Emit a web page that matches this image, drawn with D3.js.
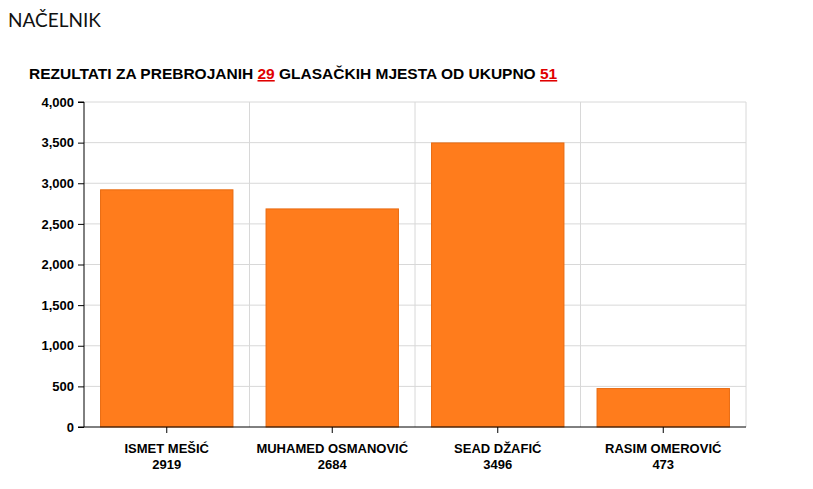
<!DOCTYPE html><html><head><meta charset="utf-8"><script src="https://cdn.jsdelivr.net/npm/d3@7"></script>
<style>body{margin:0;background:#fff}</style></head><body><svg id="c" width="813" height="489"></svg><script>
const candidates=["ISMET MEŠIĆ","MUHAMED OSMANOVIĆ","SEAD DŽAFIĆ","RASIM OMEROVIĆ"];
const votes=[2919,2684,3496,473];
const yTicks=[0,500,1000,1500,2000,2500,3000,3500,4000];
const counted="29", total="51";
const svg=d3.select("#c");
const L=84,R=746,T=102,B=427;
const x=d3.scaleBand().domain(candidates).range([L,R]).paddingInner(0.2).paddingOuter(0.1);
const xb=d3.scaleBand().domain(candidates).range([L,R]);
const y=d3.scaleLinear().domain([0,4000]).range([B,T]);
svg.append("text").attr("x",8).attr("y",27).attr("font-family","Lato").attr("font-size",19).attr("fill","#111").text("NAČELNIK");
const st=svg.append("text").attr("x",29).attr("y",79).attr("font-family","Liberation Sans, Arial").attr("font-weight","bold").attr("font-size",15.5).attr("fill","#000");
st.append("tspan").text("REZULTATI ZA PREBROJANIH ");
st.append("tspan").attr("fill","#e00000").attr("text-decoration","underline").text(counted);
st.append("tspan").text(" GLASAČKIH MJESTA OD UKUPNO ");
st.append("tspan").attr("fill","#e00000").attr("text-decoration","underline").text(total+" ");
const g=svg.append("g");
g.selectAll(".hg").data(yTicks.slice(1)).join("line").attr("x1",L).attr("x2",R).attr("y1",d=>y(d)).attr("y2",d=>y(d)).attr("stroke","#d8d8d8");
g.selectAll(".vg").data(candidates).join("line").attr("x1",d=>xb(d)+xb.bandwidth()).attr("x2",d=>xb(d)+xb.bandwidth()).attr("y1",T).attr("y2",B).attr("stroke","#d8d8d8");
g.selectAll("rect").data(votes).join("rect").attr("x",(d,i)=>x(candidates[i])).attr("width",x.bandwidth()).attr("y",d=>y(d)).attr("height",d=>B-y(d)).attr("fill","#ff7c1c").attr("stroke","#e86a10").attr("stroke-width",1);
const ya=svg.append("g").attr("transform",`translate(${L},0)`).call(d3.axisLeft(y).tickValues(yTicks).tickSize(6).tickPadding(4).tickFormat(d3.format(",")));
ya.select(".domain").attr("d",`M-6,${T}H0V${B}`);
ya.selectAll("text").attr("font-family","Liberation Sans, Arial").attr("font-weight","bold").attr("font-size",13).attr("fill","#000");
const xa=svg.append("g").attr("transform",`translate(0,${B})`).call(d3.axisBottom(xb).tickSize(6).tickFormat(""));
xa.select(".domain").attr("d",`M${L-6},0H${R}`);
candidates.forEach((c,i)=>{
 const t=svg.append("text").attr("text-anchor","middle").attr("font-family","Liberation Sans, Arial").attr("font-weight","bold").attr("font-size",13).attr("fill","#000");
 t.append("tspan").attr("x",xb(c)+xb.bandwidth()/2).attr("y",453).text(c);
 t.append("tspan").attr("x",xb(c)+xb.bandwidth()/2).attr("y",469).text(votes[i]);
});
</script></body></html>
